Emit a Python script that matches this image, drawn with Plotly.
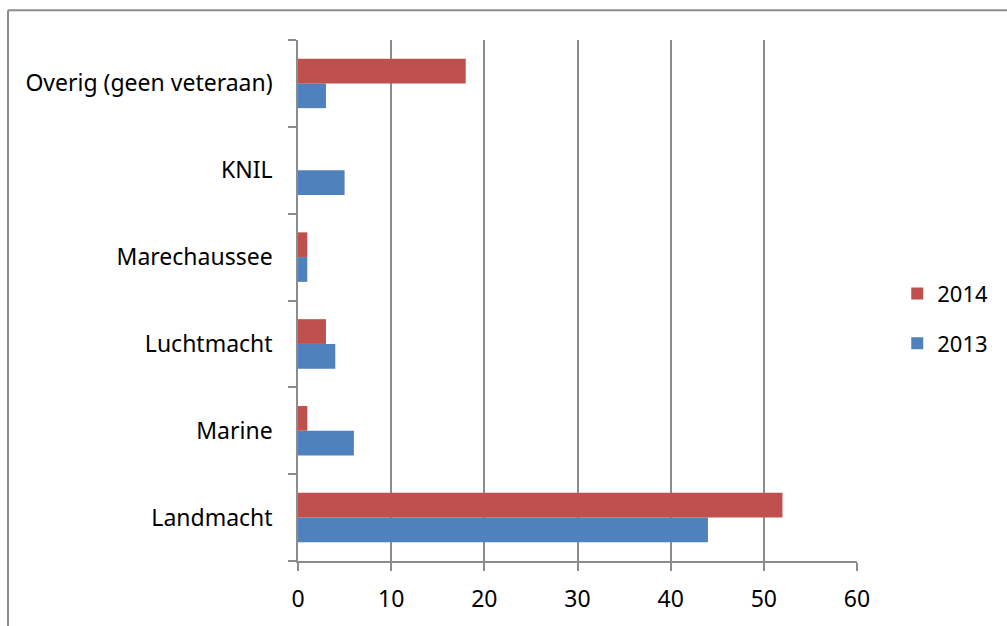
import plotly.graph_objects as go

# Categories (bottom to top) and counts per year
categories = ["Landmacht", "Marine", "Luchtmacht", "Marechaussee", "KNIL", "Overig (geen veteraan)"]
values_2013 = [44, 6, 4, 1, 5, 3]
values_2014 = [52, 1, 3, 1, 0, 18]
x_ticks = [0, 10, 20, 30, 40, 50, 60]

BLUE = "#4F81BD"
RED = "#C0504D"
GREY = "#8c8c8c"
FONT = "Noto Sans, Liberation Sans, sans-serif"

fig = go.Figure()
fig.add_trace(go.Bar(y=categories, x=values_2013, name="2013", orientation="h",
                     legendgroup="g2013", legendrank=2,
                     marker=dict(color=BLUE, line=dict(width=0))))
fig.add_trace(go.Bar(y=categories, x=values_2014, name="2014", orientation="h",
                     legendgroup="g2014", legendrank=1,
                     marker=dict(color=RED, line=dict(width=0))))

L, R, T, B = 298, 150, 40, 61
W, H = 1007, 626
pw, ph = W - L - R, H - T - B

fig.update_layout(
    width=W, height=H,
    margin=dict(l=L, r=R, t=T, b=B),
    paper_bgcolor="white", plot_bgcolor="white",
    barmode="group", bargap=0.43, bargroupgap=0,
    font=dict(family=FONT, size=23, color="black"),
    legend=dict(x=1.072, y=0.465, xanchor="left", yanchor="middle",
                traceorder="grouped", font=dict(size=22),
                itemsizing="constant", tracegroupgap=18),
    xaxis=dict(range=[0, 60], tickvals=x_ticks, ticktext=[str(v) for v in x_ticks],
               showgrid=True, gridcolor=GREY, gridwidth=1.5,
               showline=True, linecolor=GREY, linewidth=1.5,
               ticks="outside", ticklen=8, tickcolor=GREY, tickwidth=1.5,
               zeroline=False, ticklabelstandoff=9, fixedrange=True),
    yaxis=dict(type="category", categoryorder="array", categoryarray=categories,
               tickson="boundaries", showgrid=False,
               showline=True, linecolor=GREY, linewidth=1.5,
               ticks="outside", ticklen=8, tickcolor=GREY, tickwidth=1.5,
               ticklabelstandoff=19, fixedrange=True),
    shapes=[
        # outer chart frame (left and top edges visible)
        dict(type="line", xref="paper", yref="paper",
             x0=(8 - L) / pw, x1=(W + 5 - L) / pw,
             y0=1 + (T - 10) / ph, y1=1 + (T - 10) / ph,
             line=dict(color=GREY, width=2)),
        dict(type="line", xref="paper", yref="paper",
             x0=(8 - L) / pw, x1=(8 - L) / pw,
             y0=1 + (T - 10) / ph, y1=-(B + 5) / ph,
             line=dict(color=GREY, width=2)),
    ],
)

fig.write_html("out.html")
